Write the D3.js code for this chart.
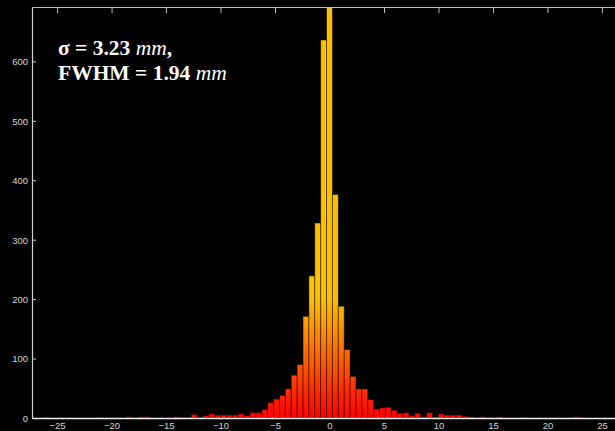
<!DOCTYPE html>
<html>
<head>
<meta charset="utf-8">
<script src="https://cdn.jsdelivr.net/npm/d3@7"></script>
<style>
  html, body { margin: 0; padding: 0; background: #000; }
  svg { display: block; }
</style>
</head>
<body>
<div class="dataviz"><svg></svg></div>
<script>
// histogram bins (centre of each bin, in mm) and counts
const binWidth = 0.54
const binCenters = [
  -25.92, -21.06, -18.36, -17.28, -16.74,
  -14.04, -13.5, -12.96, -12.42, -11.88, -11.34, -10.8, -10.26, -9.72, -9.18, -8.64, -8.1, -7.56, -7.02, -6.48, -5.94,
  -5.4, -4.86, -4.32, -3.78, -3.24, -2.7, -2.16, -1.62, -1.08, -0.54, 0,
  0.54, 1.08, 1.62, 2.16, 2.7, 3.24, 3.78, 4.32, 4.86, 5.4, 5.94, 6.48, 7.02, 7.56, 8.1, 8.64,
  9.18, 9.72, 10.26, 10.8, 11.34, 11.88, 12.42, 12.96, 14.04, 15.66, 17.82, 22.68
]
const counts = [
  1, 1, 2, 2, 2,
  2, 1, 1, 6, 1, 4, 7, 5, 5, 5, 5, 7, 4, 9, 9, 14,
  26, 32, 38, 49, 72, 90, 171, 239, 328, 636, 691,
  376, 188, 115, 70, 49, 49, 31, 15, 17, 18, 13, 8, 9, 4, 8, 2,
  9, 1, 7, 5, 5, 5, 3, 2, 2, 2, 1, 2
]
const xTicks = [-25, -20, -15, -10, -5, 0, 5, 10, 15, 20, 25]
const yTicks = [0, 100, 200, 300, 400, 500, 600]

const data = binCenters.map((c, i) => ({c: c, n: counts[i]}))

const width = 615
const height = 431
const margin = {top: 7, right: -12, bottom: 13, left: 32}

const svg = d3.select(".dataviz > svg")
    .attr("width", width)
    .attr("height", height)

svg.append("rect")
    .attr("width", width)
    .attr("height", height)
    .attr("fill", "#000")

const x = d3.scaleLinear()
    .domain([-27.3, 27.3])
    .range([margin.left, width - margin.right])

const y = d3.scaleLinear()
    .domain([0, 691.5])
    .range([height - margin.bottom, margin.top])

// colour runs red at the baseline to amber higher up
const defs = svg.append("defs")
const grad = defs.append("linearGradient")
    .attr("id", "barfill")
    .attr("gradientUnits", "userSpaceOnUse")
    .attr("x1", 0).attr("x2", 0)
    .attr("y1", y(0)).attr("y2", y(200))
grad.append("stop").attr("offset", "0%").attr("stop-color", "#ff0000")
grad.append("stop").attr("offset", "100%").attr("stop-color", "#ffc000")

svg.append("g")
    .selectAll("rect")
    .data(data)
    .join("rect")
    .attr("x", d => x(d.c - binWidth / 2))
    .attr("y", d => y(d.n))
    .attr("width", d => x(d.c + binWidth / 2) - x(d.c - binWidth / 2))
    .attr("height", d => y(0) - y(d.n))
    .attr("fill", "url(#barfill)")
    .attr("stroke", "rgba(0,0,0,0.45)")
    .attr("stroke-width", 1)

// axes
const xAxisBottom = g => g
    .attr("transform", `translate(0,${height - margin.bottom})`)
    .call(d3.axisBottom(x).tickValues(xTicks).tickSize(0).tickPadding(4).tickSizeOuter(0))
    .call(g => g.select(".domain").attr("stroke", "#f0f0f0").attr("stroke-width", 1.5))

const xAxisTop = g => g
    .attr("transform", `translate(0,${margin.top})`)
    .call(d3.axisBottom(x).tickValues(xTicks).tickSize(6).tickSizeOuter(0).tickFormat(""))
    .call(g => g.select(".domain").attr("stroke", "#bdbdbd").attr("stroke-width", 1.2))
    .call(g => g.selectAll(".tick line").attr("stroke", "#bdbdbd"))

const yAxis = g => g
    .attr("transform", `translate(${margin.left},0)`)
    .call(d3.axisRight(y).tickValues(yTicks).tickSize(4).tickSizeOuter(0).tickFormat(""))
    .call(g => g.select(".domain").attr("stroke", "#d0d0d0").attr("stroke-width", 1.2))
    .call(g => g.selectAll(".tick line").attr("stroke", "#d0d0d0"))
    .call(g => g.selectAll(".tick").append("text")
        .attr("x", -4)
        .attr("dy", "0.35em")
        .attr("text-anchor", "end")
        .text(d => d))

svg.append("g").call(xAxisTop)
svg.append("g").call(yAxis)
svg.append("g").call(xAxisBottom)

svg.selectAll(".tick text")
    .attr("font-family", "'Liberation Sans', Arial, sans-serif")
    .attr("font-size", 9.5)
    .attr("fill", "#d4d4d4")

// annotation
const note = svg.append("g")
    .attr("font-family", "'Liberation Serif', 'Times New Roman', serif")
    .attr("font-size", 21.5)
    .attr("font-weight", "bold")
    .attr("fill", "#fff")

const line1 = note.append("text").attr("x", 58).attr("y", 55)
line1.append("tspan").text("σ = 3.23 ")
line1.append("tspan").attr("font-style", "italic").attr("font-weight", "normal").text("mm")
line1.append("tspan").text(",")

const line2 = note.append("text").attr("x", 58).attr("y", 80)
line2.append("tspan").text("FWHM = 1.94 ")
line2.append("tspan").attr("font-style", "italic").attr("font-weight", "normal").text("mm")
</script>
</body>
</html>
